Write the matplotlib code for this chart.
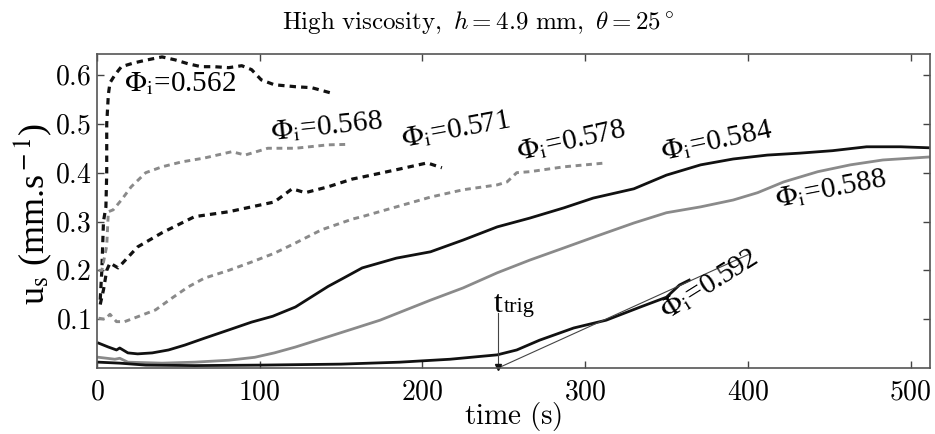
import matplotlib
matplotlib.use('Agg')
import matplotlib.pyplot as plt

plt.rcParams['mathtext.fontset'] = 'cm'
plt.rcParams['font.family'] = 'Liberation Serif'

# phi_i = 0.562 (black dashed)
t_562 = [2, 3, 4, 5.5, 6, 6, 7, 8, 11, 15, 23, 31, 40, 48, 56, 64, 72, 81, 89, 95, 101, 109, 122, 132, 144]
u_562 = [0.14, 0.2, 0.3, 0.33, 0.4, 0.5, 0.56, 0.584, 0.6, 0.617, 0.625, 0.631, 0.637, 0.631, 0.623,
         0.617, 0.617, 0.615, 0.619, 0.611, 0.59, 0.58, 0.576, 0.574, 0.563]
# phi_i = 0.568 (grey dashed)
t_568 = [1, 3, 6, 7, 10, 15, 21, 30, 40, 52, 66, 83, 91, 105, 122, 142, 155]
u_568 = [0.2, 0.2, 0.25, 0.32, 0.324, 0.344, 0.371, 0.40, 0.412, 0.422, 0.43, 0.443, 0.436, 0.45,
         0.45, 0.457, 0.458]
# phi_i = 0.571 (black dashed)
t_571 = [2, 4, 6, 8, 13, 25, 40, 60, 81, 109, 120, 128, 142, 157, 163, 184, 203, 212]
u_571 = [0.13, 0.16, 0.2, 0.215, 0.205, 0.248, 0.277, 0.31, 0.32, 0.34, 0.367, 0.359, 0.371, 0.387,
         0.391, 0.406, 0.42, 0.41]
# phi_i = 0.578 (grey dashed)
t_578 = [1, 5, 8, 12, 17, 25, 36, 46, 56, 66, 81, 95, 109, 122, 138, 157, 163, 184, 205, 225, 246,
         252, 258, 266, 287, 313]
u_578 = [0.102, 0.1, 0.11, 0.095, 0.095, 0.105, 0.119, 0.143, 0.166, 0.184, 0.2, 0.217, 0.235, 0.256,
         0.283, 0.305, 0.31, 0.33, 0.35, 0.365, 0.375, 0.381, 0.40, 0.402, 0.412, 0.42]
# phi_i = 0.584 (black solid)
t_584 = [1, 7, 12, 14, 19, 25, 34, 44, 54, 66, 81, 95, 108, 122, 142, 152, 163, 184, 205, 225, 246,
         266, 287, 305, 330, 350, 371, 391, 412, 432, 452, 473, 494, 511]
u_584 = [0.051, 0.043, 0.037, 0.041, 0.031, 0.029, 0.031, 0.037, 0.047, 0.061, 0.078, 0.094, 0.106,
         0.125, 0.167, 0.185, 0.205, 0.225, 0.238, 0.262, 0.289, 0.307, 0.328, 0.348, 0.367, 0.395,
         0.416, 0.428, 0.436, 0.44, 0.445, 0.453, 0.453, 0.451]
# phi_i = 0.588 (grey solid)
t_588 = [1, 11, 14, 19, 40, 60, 81, 97, 109, 122, 142, 159, 174, 205, 225, 246, 266, 287, 307, 330,
         350, 371, 391, 406, 422, 443, 463, 483, 511]
u_588 = [0.022, 0.018, 0.02, 0.012, 0.01, 0.012, 0.016, 0.022, 0.031, 0.043, 0.064, 0.082, 0.098,
         0.139, 0.164, 0.195, 0.221, 0.246, 0.27, 0.297, 0.318, 0.33, 0.344, 0.359, 0.381, 0.402,
         0.416, 0.426, 0.432]
# phi_i = 0.592 (black solid)
t_592 = [1, 14, 30, 60, 101, 150, 186, 217, 246, 258, 272, 293, 313, 334, 350, 358, 364]
u_592 = [0.012, 0.01, 0.006, 0.005, 0.006, 0.008, 0.012, 0.018, 0.027, 0.037, 0.057, 0.082, 0.098,
         0.125, 0.145, 0.17, 0.18]

# trigger time and tangent
t_trig = 246.5
tangent_t = [246.5, 400]
tangent_u = [0.0, 0.232]

x_ticks = [0, 100, 200, 300, 400, 500]
y_ticks = [0.1, 0.2, 0.3, 0.4, 0.5, 0.6]

black = '#111111'
grey = '#8a8a8a'
dash = (0, (2.0, 1.6))

fig = plt.figure(figsize=(9.35, 4.34), dpi=100)
ax = fig.add_axes([0.1037, 0.152, 0.891, 0.7236])

ax.plot(t_562, u_562, color=black, lw=2.3, ls=dash)
ax.plot(t_568, u_568, color=grey, lw=2.1, ls=dash)
ax.plot(t_571, u_571, color=black, lw=2.3, ls=dash)
ax.plot(t_578, u_578, color=grey, lw=2.1, ls=dash)
ax.plot(t_584, u_584, color=black, lw=2.0)
ax.plot(t_588, u_588, color=grey, lw=2.0)
ax.plot(t_592, u_592, color=black, lw=2.0)

ax.plot(tangent_t, tangent_u, color='#444444', lw=0.8)
ax.plot([t_trig, t_trig], [0, 0.112], color='#444444', lw=0.8)
ax.plot([t_trig], [0.002], marker='v', ms=4, color=black, clip_on=False)
ax.text(t_trig - 2.5, 0.114, 't', fontsize=23, ha='left', va='baseline')
ax.text(t_trig + 3.5, 0.114, 'trig', fontsize=16, ha='left', va='baseline')

# curve labels: (text, t, u, rotation)
labels = [
    ('0.562', 16.6, 0.568, 0),
    ('0.568', 107, 0.467, 6),
    ('0.571', 188, 0.453, 10.5),
    ('0.578', 259, 0.426, 12.5),
    ('0.584', 348, 0.426, 12),
    ('0.588', 418, 0.33, 11),
    ('0.592', 350, 0.098, 32),
]
for txt, tx, uy, rot in labels:
    ax.text(tx, uy, r'$\Phi_{\rm i}$=' + txt, fontsize=21, rotation=rot,
            rotation_mode='anchor', ha='left', va='baseline', math_fontfamily='stix')

ax.set_xlim(0, 512)
ax.set_ylim(0, 0.643)
ax.set_xticks(x_ticks)
ax.set_xticklabels(['$%d$' % v for v in x_ticks])
ax.set_yticks(y_ticks)
ax.set_yticklabels(['$%.1f$' % v for v in y_ticks])
ax.tick_params(direction='in', top=True, right=True, length=5, width=1, color='#444444',
               labelsize=20)
ax.tick_params(axis='x', pad=9)
ax.tick_params(axis='y', pad=4)
for s in ax.spines.values():
    s.set_color('#555555')
    s.set_linewidth(1.2)

ax.set_xlabel(r'$\mathrm{time\ (s)}$', fontsize=21, labelpad=-4)
ax.set_ylabel(r'u$_{\rm s}$ (mm.s$^{\rm -1}$)', fontsize=26, math_fontfamily='stix')
ax.yaxis.set_label_coords(-0.052, 0.49)

fig.text(0.511, 0.933, r'$\mathrm{High\ viscosity,}\ h = 4.9\ \mathrm{mm},\ \theta = 25^\circ$',
         fontsize=18, ha='center', va='baseline')

fig.savefig('out.png', dpi=100)
